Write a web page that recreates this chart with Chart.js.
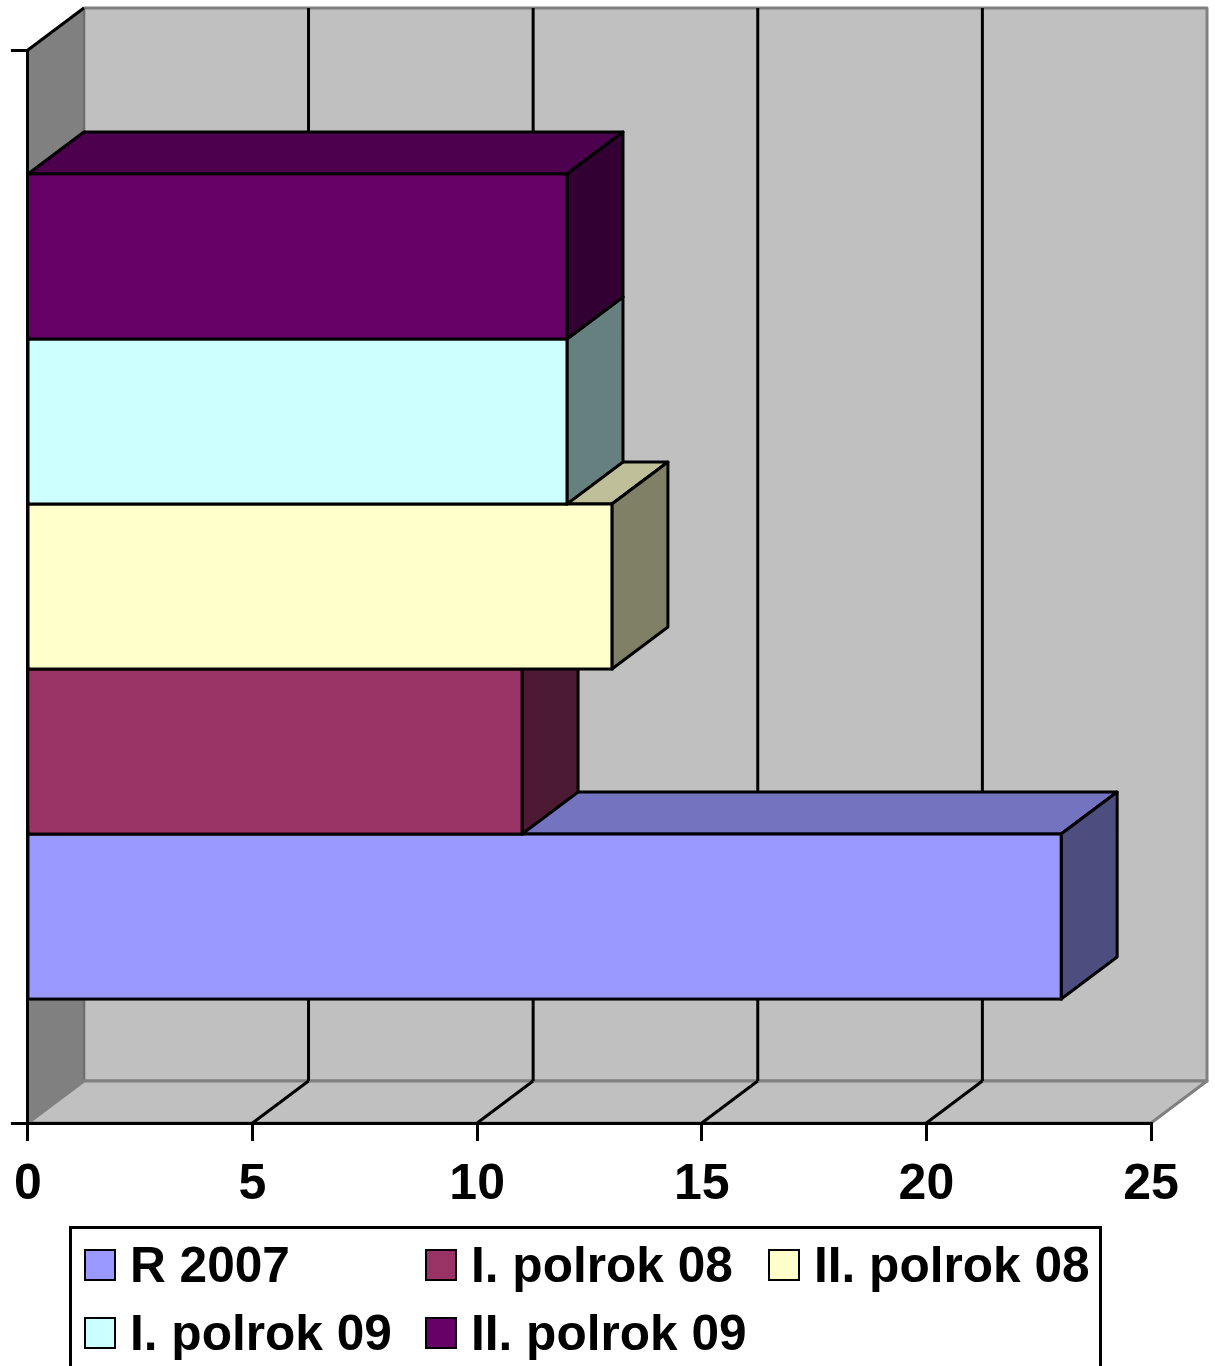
<!DOCTYPE html>
<html lang="sk">
<head>
    <meta charset="UTF-8">
    <title>R 2007 - II. polrok 09</title>
    <script src="https://cdn.jsdelivr.net/npm/chart.js"></script>
    <style>
        html, body { margin: 0; padding: 0; background: #fff; width: 1215px; height: 1366px; overflow: hidden; }
        #wrap { position: relative; width: 1215px; height: 1366px; overflow: hidden; }
        #legend {
            position: absolute; left: 69px; top: 1226px; width: 1027px; height: 170px;
            border: 3px solid #000; box-sizing: content-box; background: #fff;
            font: bold 49.6px "Liberation Sans", Arial, sans-serif; color: #000;
        }
        .item { position: absolute; display: flex; align-items: center; height: 68px; white-space: nowrap; }
        .swatch { width: 28px; height: 28px; border: 2.5px solid #000; margin-right: 14px; flex: none; }
    </style>
</head>
<body>
    <div id="wrap">
        <canvas id="barChart" width="1215" height="1366"></canvas>
        <div id="legend"></div>
    </div>

    <script>
        const categories = [''];
        const seriesNames = ['R 2007', 'I. polrok 08', 'II. polrok 08', 'I. polrok 09', 'II. polrok 09'];
        const seriesValues = [23, 11, 13, 12, 12];
        const seriesColors = ['#9999FF', '#993366', '#FFFFCC', '#CCFFFF', '#660066'];
        const tickStep = 5;
        const axisMax = 25;

        // depth of the fake 3D box
        const depthX = 56;
        const depthY = 42;

        function shade(hex, k) {
            const n = parseInt(hex.slice(1), 16);
            const r = Math.round((n >> 16 & 255) * k);
            const g = Math.round((n >> 8 & 255) * k);
            const b = Math.round((n & 255) * k);
            return `rgb(${r},${g},${b})`;
        }

        function poly(ctx, pts, fill, stroke, lw) {
            ctx.beginPath();
            pts.forEach((p, i) => i ? ctx.lineTo(p[0], p[1]) : ctx.moveTo(p[0], p[1]));
            ctx.closePath();
            if (fill) { ctx.fillStyle = fill; ctx.fill(); }
            if (stroke) { ctx.strokeStyle = stroke; ctx.lineWidth = lw; ctx.stroke(); }
        }

        function line(ctx, x1, y1, x2, y2, color, lw) {
            ctx.beginPath();
            ctx.moveTo(x1, y1);
            ctx.lineTo(x2, y2);
            ctx.strokeStyle = color;
            ctx.lineWidth = lw;
            ctx.stroke();
        }

        const box3d = {
            id: 'box3d',
            // walls and floor behind the bars
            beforeDatasetsDraw(chart) {
                const { ctx, chartArea: a, scales } = chart;
                const l = a.left, r = a.right, t = a.top, b = a.bottom;
                ctx.save();
                ctx.lineJoin = 'round';
                poly(ctx, [[l + depthX, t - depthY], [r + depthX, t - depthY], [r + depthX, b - depthY], [l + depthX, b - depthY]], '#C0C0C0', '#808080', 3);
                poly(ctx, [[l, t], [l + depthX, t - depthY], [l + depthX, b - depthY], [l, b]], '#808080', '#6E6E6E', 2);
                poly(ctx, [[l, b], [l + depthX, b - depthY], [r + depthX, b - depthY], [r, b]], '#C0C0C0', '#808080', 3);
                line(ctx, l, t, l + depthX, t - depthY, '#000', 3);
                scales.x.ticks.forEach(tick => {
                    if (tick.value === 0 || tick.value === axisMax) return;
                    const x = scales.x.getPixelForValue(tick.value);
                    line(ctx, x, b, x + depthX, b - depthY, '#000', 3);
                    line(ctx, x + depthX, t - depthY, x + depthX, b - depthY, '#000', 3);
                });
                ctx.restore();
            },
            // top and end faces go under the front of the same bar
            beforeDatasetDraw(chart, args) {
                const bar = args.meta.data[0];
                const { x, y, height } = bar.getProps(['x', 'y', 'height'], true);
                const base = chart.scales.x.getPixelForValue(0);
                const top = y - height / 2, bottom = y + height / 2;
                const color = seriesColors[args.index];
                const ctx = chart.ctx;
                ctx.save();
                ctx.lineJoin = 'round';
                poly(ctx, [[base, top], [base + depthX, top - depthY], [x + depthX, top - depthY], [x, top]], shade(color, 0.75), '#000', 3);
                poly(ctx, [[x, top], [x + depthX, top - depthY], [x + depthX, bottom - depthY], [x, bottom]], shade(color, 0.5), '#000', 3);
                ctx.restore();
            },
            afterDatasetDraw(chart, args) {
                const bar = args.meta.data[0];
                const { x, y, height } = bar.getProps(['x', 'y', 'height'], true);
                const base = chart.scales.x.getPixelForValue(0);
                const ctx = chart.ctx;
                ctx.save();
                ctx.strokeStyle = '#000';
                ctx.lineWidth = 3;
                ctx.strokeRect(base, y - height / 2, x - base, height);
                ctx.restore();
            }
        };

        const ctx = document.getElementById('barChart').getContext('2d');
        const chart = new Chart(ctx, {
            type: 'bar',
            plugins: [box3d],
            data: {
                labels: categories,
                // lower order = nearer the top and painted later, like the original
                datasets: seriesNames.map((name, i) => ({
                    label: name,
                    data: [seriesValues[i]],
                    backgroundColor: seriesColors[i],
                    borderWidth: 0,
                    order: seriesNames.length - i,
                    barPercentage: 1,
                    categoryPercentage: 0.769
                }))
            },
            options: {
                indexAxis: 'y',
                responsive: false,
                animation: false,
                layout: { padding: { left: 6, right: 64, top: 50, bottom: 0 } },
                plugins: { legend: { display: false }, title: { display: false }, tooltip: { enabled: false } },
                scales: {
                    x: {
                        min: 0,
                        max: axisMax,
                        afterFit: s => { s.height = 243; },
                        border: { color: '#000', width: 3, z: 2 },
                        grid: { drawOnChartArea: false, color: '#000', lineWidth: 3, tickLength: 18, z: 2 },
                        ticks: {
                            stepSize: tickStep,
                            color: '#000',
                            padding: 14,
                            maxRotation: 0,
                            font: { family: '"Liberation Sans", Arial, sans-serif', size: 50, weight: 'bold' }
                        }
                    },
                    y: {
                        afterFit: s => { s.width = 17; },
                        border: { color: '#000', width: 3, z: 2 },
                        grid: { drawOnChartArea: false, color: '#000', lineWidth: 3, tickLength: 17, z: 2 },
                        ticks: { display: false }
                    }
                }
            }
        });

        // legend has aligned columns, which the built-in one cannot do
        const legendEl = document.getElementById('legend');
        const columnLeft = [12, 353, 696];
        const rowTop = [2, 70];
        chart.data.datasets.forEach((ds, i) => {
            const item = document.createElement('div');
            item.className = 'item';
            item.style.left = columnLeft[i % 3] + 'px';
            item.style.top = rowTop[Math.floor(i / 3)] + 'px';
            const swatch = document.createElement('span');
            swatch.className = 'swatch';
            swatch.style.background = ds.backgroundColor;
            item.appendChild(swatch);
            item.appendChild(document.createTextNode(ds.label));
            legendEl.appendChild(item);
        });
    </script>
</body>
</html>
